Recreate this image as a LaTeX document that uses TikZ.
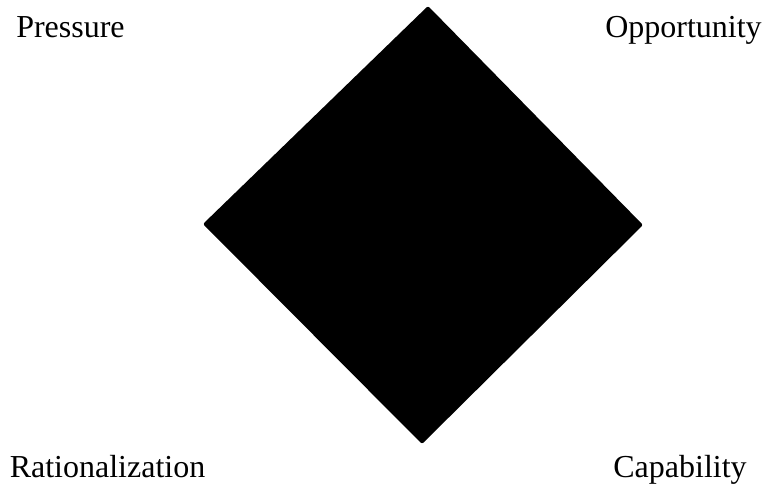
\documentclass[tikz,border=0pt]{standalone}
\usepackage{fontspec}
\setmainfont{Liberation Serif}
\usetikzlibrary{calc}

\begin{document}
\begin{tikzpicture}[x=1pt, y=-1pt, lbl/.style={anchor=base, inner sep=0pt, font=\fontsize{32}{36}\selectfont}]
  \useasboundingbox (0,0) rectangle (765,486);
  % rombo
  \coordinate (top) at (428,6);
  \coordinate (rgt) at (643,225);
  \coordinate (bot) at (422,444);
  \coordinate (lft) at (203,224);
  \fill[rounded corners=2pt] (top)--(rgt)--(bot)--(lft)--cycle;
  % etiquetas
  \node[lbl] (pres) at (70.5,38){Pressure};
  \node[lbl] (opp) at (683.5,38){Opportunity};
  \node[lbl] (rat) at (107.5,477){Rationalization};
  \node[lbl] (cap) at (680,477){Capability};
\end{tikzpicture}
\end{document}
